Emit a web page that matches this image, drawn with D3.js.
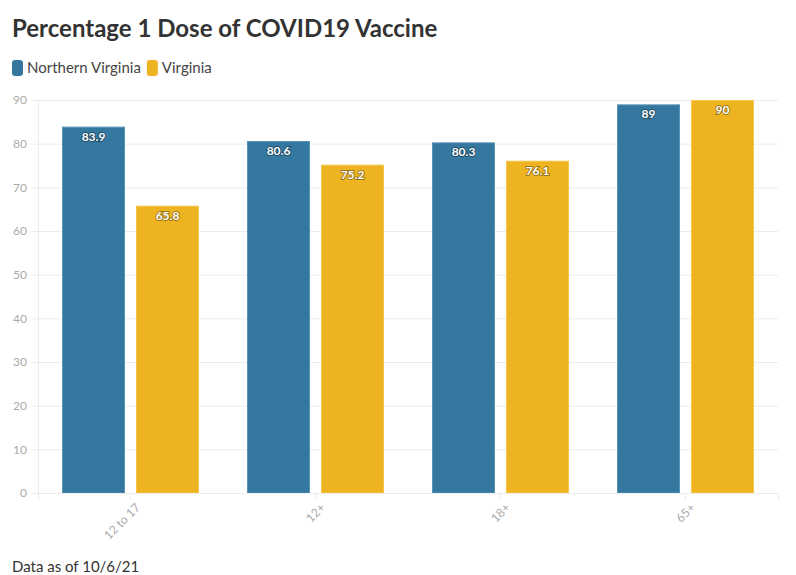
<!DOCTYPE html>
<html>
<head>
<meta charset="utf-8">
<script src="https://cdn.jsdelivr.net/npm/d3@7"></script>
<style>
  body { margin: 0; background: #fff; font-family: "Lato", "Noto Sans", sans-serif; }
  svg text { font-family: "Lato", "Noto Sans", sans-serif; }
</style>
</head>
<body>
<svg id="chart" width="796" height="575"></svg>
<script>
// Datos
const categorias = ["12 to 17", "12+", "18+", "65+"];
const series = ["Northern Virginia", "Virginia"];
const valoresNova = [83.9, 80.6, 80.3, 89];
const valoresVirginia = [65.8, 75.2, 76.1, 90];
const ticksY = [0, 10, 20, 30, 40, 50, 60, 70, 80, 90];
const colores = ["#34789f", "#edb320"];
const bordes = ["#5b93b5", "#f5c84d"];

const svg = d3.select("#chart");
const margin = { top: 100, right: 18, bottom: 82, left: 38 };
const width = 796, height = 575;

// Título
svg.append("text")
    .attr("x", 12).attr("y", 37)
    .text("Percentage 1 Dose of COVID19 Vaccine")
    .style("font-size", "24px")
    .style("font-weight", "bold")
    .style("fill", "#333");

// Leyenda
const leyenda = svg.append("g").attr("transform", "translate(12,60)");
let offset = 0;
series.forEach((s, i) => {
    const g = leyenda.append("g").attr("transform", `translate(${offset},0)`);
    g.append("rect").attr("width", 11).attr("height", 16).attr("rx", 3).attr("fill", colores[i]);
    const t = g.append("text").attr("x", 15).attr("y", 13)
        .text(s).style("font-size", "15px").style("fill", "#444");
    offset += 15 + t.node().getComputedTextLength() + 6;
});

const x0 = d3.scaleBand()
    .domain(categorias)
    .range([margin.left, width - margin.right]);

const x1 = d3.scaleBand()
    .domain(series)
    .range([24, x0.bandwidth() - 24])
    .paddingInner(0.149);

const y = d3.scaleLinear()
    .domain([0, 90])
    .range([height - margin.bottom, margin.top]);

// Grid
svg.append("g")
    .attr("transform", `translate(${margin.left},0)`)
    .call(d3.axisLeft(y).tickValues(ticksY).tickSize(-(width - margin.left - margin.right)).tickFormat(""))
    .call(g => g.select(".domain").remove())
    .call(g => g.selectAll("line").attr("stroke", "#ececec"));

// Eje Y
svg.append("g")
    .attr("transform", `translate(${margin.left},0)`)
    .call(d3.axisLeft(y).tickValues(ticksY).tickSize(7).tickPadding(4))
    .call(g => g.select(".domain").attr("stroke", "#ececec"))
    .call(g => g.selectAll("line").attr("stroke", "#ececec"))
    .call(g => g.selectAll("text").style("fill", "#aaa").style("font-size", "12px"));

// Barras
const datos = categorias.map((c, i) => ({ cat: c, valores: [valoresNova[i], valoresVirginia[i]] }));

const grupos = svg.append("g").selectAll("g")
    .data(datos)
    .join("g")
    .attr("transform", d => `translate(${x0(d.cat)},0)`);

grupos.selectAll("rect")
    .data(d => d.valores.map((v, i) => ({ serie: series[i], v, i })))
    .join("rect")
    .attr("x", d => x1(d.serie) + 0.5)
    .attr("y", d => y(d.v) + 0.5)
    .attr("width", x1.bandwidth() - 1)
    .attr("height", d => y(0) - y(d.v) - 0.5)
    .attr("fill", d => colores[d.i])
    .attr("stroke", d => bordes[d.i])
    .attr("stroke-width", 1);

grupos.selectAll("text")
    .data(d => d.valores.map((v, i) => ({ serie: series[i], v, i })))
    .join("text")
    .attr("x", d => x1(d.serie) + x1.bandwidth() / 2)
    .attr("y", d => y(d.v) + 14)
    .attr("text-anchor", "middle")
    .text(d => d.v)
    .style("font-size", "12px")
    .style("font-weight", "bold")
    .style("fill", "#fff")
    .style("paint-order", "stroke")
    .style("stroke", "rgba(0,0,0,0.35)")
    .style("stroke-width", "2px");

// Eje X
svg.append("g")
    .attr("transform", `translate(0,${height - margin.bottom})`)
    .call(d3.axisBottom(x0).tickSize(7).tickPadding(4))
    .call(g => g.select(".domain").attr("stroke", "#ececec"))
    .call(g => g.selectAll("line").attr("stroke", "#ececec"))
    .call(g => g.selectAll("text")
        .attr("text-anchor", "end")
        .attr("dx", "-0.3em")
        .attr("dy", "0.6em")
        .attr("transform", "rotate(-45)")
        .style("fill", "#aaa")
        .style("font-size", "12px"));

// Nota
svg.append("text")
    .attr("x", 12).attr("y", 572)
    .text("Data as of 10/6/21")
    .style("font-size", "15px")
    .style("fill", "#333");
</script>
</body>
</html>
